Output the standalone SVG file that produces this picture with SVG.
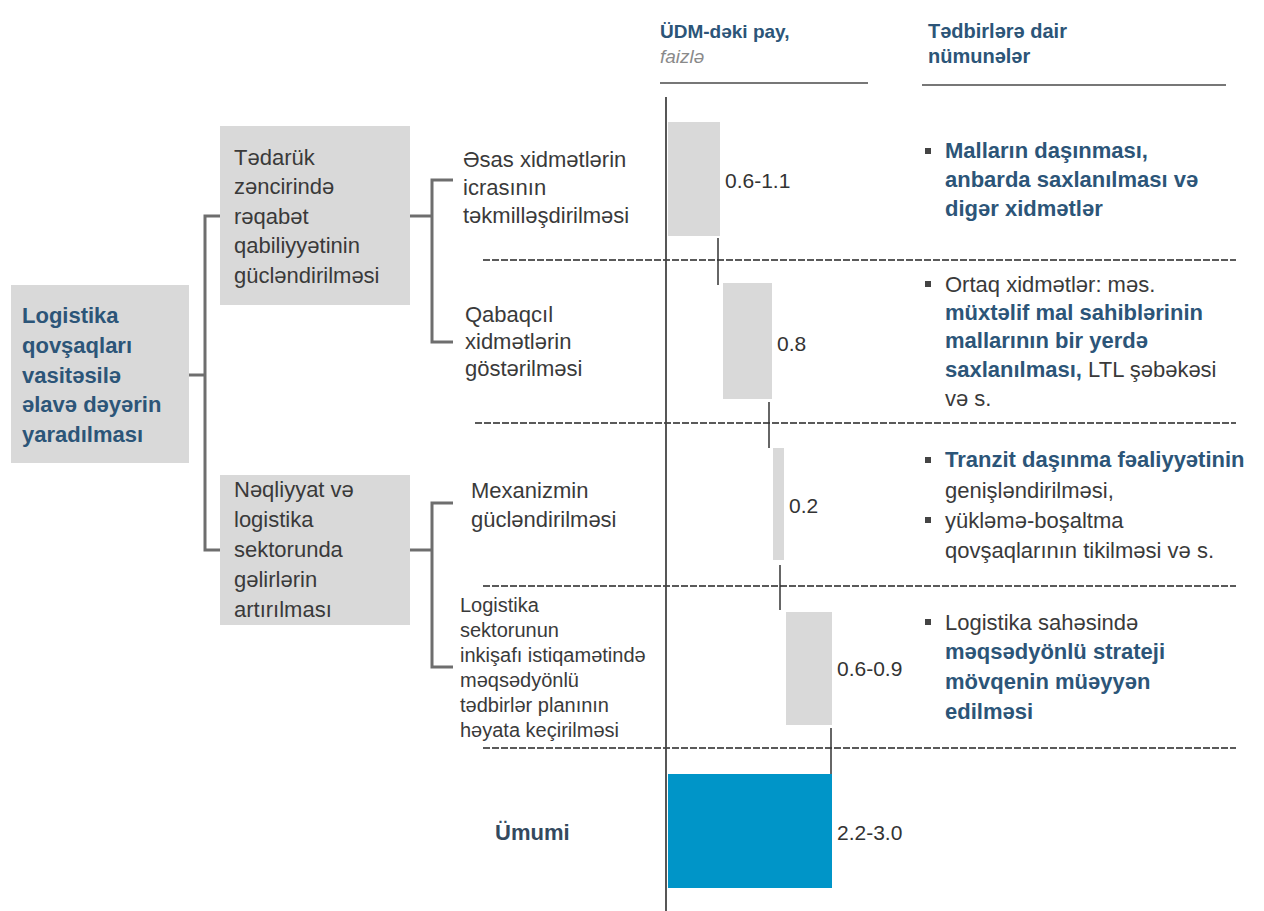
<svg xmlns="http://www.w3.org/2000/svg" width="1264" height="911" viewBox="0 0 1264 911">
<style>
text{font-family:"Liberation Sans",Arial,sans-serif;}
.blue{fill:#2c5578;font-weight:bold;}
.dark{fill:#3a3a3a;}
.box{fill:#d9d9d9;}
.bar{fill:#d9d9d9;}
.conn{stroke:#6e6e6e;stroke-width:3;fill:none;}
.sep{stroke:#5a5a5a;stroke-width:2;stroke-dasharray:7 2;fill:none;}
.tick{stroke:#333;stroke-width:1.5;}
.t22{font-size:22px;}
.t20{font-size:20px;}
.val{font-size:21px;fill:#333;}
.bul{fill:#444;}
</style>
<rect width="1264" height="911" fill="#fff"/>

<!-- headers -->
<g id="header-gdp">
<text x="660" y="38" class="blue" font-size="19">ÜDM-dəki pay,</text>
<text x="660" y="63" font-size="19" font-style="italic" fill="#8a8a8a">faizlə</text>
<line x1="660" y1="83" x2="868" y2="83" stroke="#777" stroke-width="2"/>
</g>
<g id="header-examples">
<text x="928" y="38" class="blue" font-size="20">Tədbirlərə dair</text>
<text x="928" y="63" class="blue" font-size="20">nümunələr</text>
<line x1="922" y1="85" x2="1226" y2="85" stroke="#777" stroke-width="2"/>
</g>

<!-- connectors -->
<g id="connectors">
<polyline class="conn" points="189,375 205,375"/>
<polyline class="conn" points="220,216 205,216 205,550 220,550"/>
<polyline class="conn" points="410,216 432,216"/>
<polyline class="conn" points="453,180 432,180 432,342 453,342"/>
<polyline class="conn" points="410,550 432,550"/>
<polyline class="conn" points="453,503 432,503 432,667 453,667"/>
<line class="sep" x1="483" y1="260" x2="1236" y2="260"/>
<line class="sep" x1="475" y1="423" x2="1236" y2="423"/>
<line class="sep" x1="483" y1="586" x2="1236" y2="586"/>
<line class="sep" x1="483" y1="748" x2="1236" y2="748"/>
<line x1="666" y1="97" x2="666" y2="911" stroke="#444" stroke-width="1.8"/>
<line class="tick" x1="718" y1="238" x2="718" y2="285"/>
<line class="tick" x1="769" y1="402" x2="769" y2="448"/>
<line class="tick" x1="780" y1="565" x2="780" y2="610"/>
<line class="tick" x1="831" y1="728" x2="831" y2="774"/>
</g>

<!-- root -->
<g id="root">
<rect class="box" x="11" y="285" width="178" height="178"/>
<text class="blue t22" x="22">
<tspan x="22" y="323">Logistika</tspan>
<tspan x="22" y="353">qovşaqları</tspan>
<tspan x="22" y="383">vasitəsilə</tspan>
<tspan x="22" y="412">əlavə dəyərin</tspan>
<tspan x="22" y="442">yaradılması</tspan>
</text>
</g>

<g id="supply-chain">
<rect class="box" x="220" y="126" width="190" height="179"/>
<text class="dark t22">
<tspan x="234" y="165">Tədarük</tspan>
<tspan x="234" y="194">zəncirində</tspan>
<tspan x="234" y="224">rəqabət</tspan>
<tspan x="234" y="253">qabiliyyətinin</tspan>
<tspan x="234" y="283">gücləndirilməsi</tspan>
</text>
</g>

<g id="revenue">
<rect class="box" x="220" y="475" width="190" height="150"/>
<text class="dark t22">
<tspan x="234" y="497">Nəqliyyat və</tspan>
<tspan x="234" y="527">logistika</tspan>
<tspan x="234" y="557">sektorunda</tspan>
<tspan x="234" y="587">gəlirlərin</tspan>
<tspan x="234" y="617">artırılması</tspan>
</text>
</g>

<g id="basic-services">
<text class="dark t22">
<tspan x="463" y="167">Əsas xidmətlərin</tspan>
<tspan x="463" y="195"> icrasının</tspan>
<tspan x="463" y="223">təkmilləşdirilməsi</tspan>
</text>
<rect class="bar" x="668" y="122" width="52" height="114"/>
<text class="val" x="725" y="188">0.6-1.1</text>
</g>

<g id="advanced-services">
<text class="dark t22">
<tspan x="465" y="322">Qabaqcıl</tspan>
<tspan x="465" y="349">xidmətlərin</tspan>
<tspan x="465" y="376">göstərilməsi</tspan>
</text>
<rect class="bar" x="723" y="283" width="49" height="116"/>
<text class="val" x="777" y="351">0.8</text>
</g>

<g id="mechanism">
<text class="dark t22">
<tspan x="471" y="498">Mexanizmin</tspan>
<tspan x="471" y="527">gücləndirilməsi</tspan>
</text>
<rect class="bar" x="773" y="448" width="11" height="112"/>
<text class="val" x="789" y="513">0.2</text>
</g>

<g id="plan">
<text class="dark t20">
<tspan x="460" y="612">Logistika</tspan>
<tspan x="460" y="637">sektorunun</tspan>
<tspan x="460" y="662">inkişafı istiqamətində</tspan>
<tspan x="460" y="687">məqsədyönlü</tspan>
<tspan x="460" y="712">tədbirlər planının</tspan>
<tspan x="460" y="737">həyata keçirilməsi</tspan>
</text>
<rect class="bar" x="786" y="612" width="46" height="113"/>
<text class="val" x="837" y="676">0.6-0.9</text>
</g>

<g id="total">
<text x="495" y="840" font-size="22" font-weight="bold" fill="#34495e">Ümumi</text>
<rect x="668" y="774" width="164" height="114" fill="#0095c8"/>
<text class="val" x="837" y="840">2.2-3.0</text>
</g>

<!-- examples -->
<g id="ex1">
<rect class="bul" x="925" y="148" width="6" height="6"/>
<text class="blue t22">
<tspan x="945" y="158">Malların daşınması,</tspan>
<tspan x="945" y="187">anbarda saxlanılması və</tspan>
<tspan x="945" y="216">digər xidmətlər</tspan>
</text>
</g>
<g id="ex2">
<rect class="bul" x="925" y="281" width="6" height="6"/>
<text class="t22">
<tspan x="945" y="292" class="dark">Ortaq xidmətlər: məs.</tspan>
<tspan x="945" y="320" class="blue">müxtəlif mal sahiblərinin</tspan>
<tspan x="945" y="348" class="blue">mallarının bir yerdə</tspan>
<tspan x="945" y="377" class="blue">saxlanılması,</tspan><tspan class="dark"> LTL şəbəkəsi</tspan>
<tspan x="945" y="406" class="dark">və s.</tspan>
</text>
</g>
<g id="ex3">
<rect class="bul" x="925" y="457" width="6" height="6"/>
<rect class="bul" x="925" y="517" width="6" height="6"/>
<text class="t22">
<tspan x="945" y="467" class="blue">Tranzit daşınma fəaliyyətinin</tspan>
<tspan x="945" y="498" class="dark">genişləndirilməsi,</tspan>
<tspan x="945" y="528" class="dark">yükləmə-boşaltma</tspan>
<tspan x="945" y="558" class="dark">qovşaqlarının tikilməsi və s.</tspan>
</text>
</g>
<g id="ex4">
<rect class="bul" x="925" y="619" width="6" height="6"/>
<text class="t22">
<tspan x="945" y="630" class="dark">Logistika sahəsində</tspan>
<tspan x="945" y="659" class="blue">məqsədyönlü strateji</tspan>
<tspan x="945" y="689" class="blue">mövqenin müəyyən</tspan>
<tspan x="945" y="719" class="blue">edilməsi</tspan>
</text>
</g>
</svg>
